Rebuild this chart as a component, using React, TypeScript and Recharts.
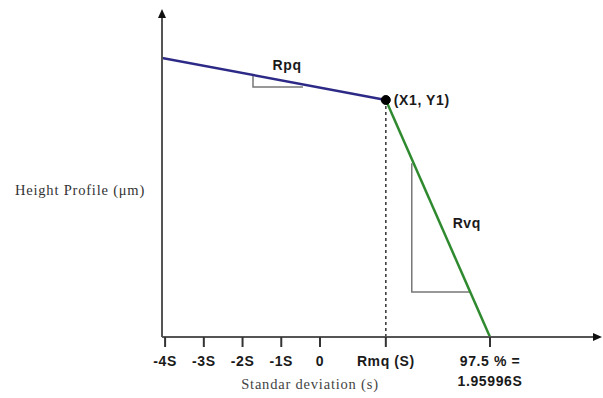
import {
  LineChart,
  Line,
  XAxis,
  YAxis,
  ReferenceLine,
  ReferenceDot,
} from 'recharts';

// x in standard deviations, y in arbitrary height units
const X_MIN = -4.08;
const X_MAX = 7.05;
const Y_MAX = 10;

const tickValues = [-4, -3, -2, -1, 0, 1.7, 4.39];
const tickLabels = ['-4S', '-3S', '-2S', '-1S', '0', 'Rmq (S)', '97.5 % =|1.95996S'];

const rpqLine = [
  { x: -4.08, y: 8.75 },
  { x: 1.7, y: 7.43 },
];
const rvqLine = [
  { x: 1.7, y: 7.43 },
  { x: 4.39, y: 0 },
];
const rpqTriangle = [
  { x: -1.73, y: 8.21 },
  { x: -1.73, y: 7.84 },
  { x: -0.44, y: 7.84 },
];
const rvqTriangle = [
  { x: 2.37, y: 5.45 },
  { x: 2.37, y: 1.41 },
  { x: 3.87, y: 1.41 },
];
const knee = { x: 1.7, y: 7.43 };
const rpqLabel = { x: -0.85, y: 8.53, text: 'Rpq' };
const rvqLabel = { x: 3.79, y: 3.57, text: 'Rvq' };

const boldFont = 'Liberation Sans, Arial, sans-serif';
const serifFont = 'Liberation Serif, Times New Roman, serif';

function XTick(props: any) {
  const { x, y, payload } = props;
  const idx = tickValues.indexOf(payload.value);
  const lines = (tickLabels[idx] ?? String(payload.value)).split('|');
  return (
    <text
      x={x}
      y={y}
      textAnchor="middle"
      fontFamily={boldFont}
      fontWeight="bold"
      fontSize={14}
      letterSpacing={0.6}
      fill="#1a1a1a"
    >
      {lines.map((l, i) => (
        <tspan key={i} x={x} dy={i === 0 ? 17 : 20}>
          {l}
        </tspan>
      ))}
    </text>
  );
}

const arrowUp = (p: any) => (
  <polygon
    points={`${p.cx},${p.cy - 9} ${p.cx - 4},${p.cy} ${p.cx + 4},${p.cy}`}
    fill="#111"
  />
);
const arrowRight = (p: any) => (
  <polygon
    points={`${p.cx + 9},${p.cy} ${p.cx},${p.cy - 4} ${p.cx},${p.cy + 4}`}
    fill="#111"
  />
);

const boldLabel = (text: string, dx = 0, dy = 0, anchor = 'middle') => (p: any) => {
  const vb = p.viewBox;
  const cx = vb.cx ?? vb.x + (vb.width ?? 0) / 2;
  const cy = vb.cy ?? vb.y + (vb.height ?? 0) / 2;
  return (
    <text
      x={cx + dx}
      y={cy + dy}
      textAnchor={anchor}
      dominantBaseline="central"
      fontFamily={boldFont}
      fontWeight="bold"
      fontSize={14}
      letterSpacing={0.6}
      fill="#1a1a1a"
    >
      {text}
    </text>
  );
};

export default function App() {
  return (
    <div style={{ position: 'absolute', left: 0, top: 0, background: '#fff' }}>
      <LineChart
        width={603}
        height={398}
        margin={{ top: 18, right: 10, bottom: 0, left: 12 }}
      >
        <XAxis
          type="number"
          dataKey="x"
          domain={[X_MIN, X_MAX]}
          ticks={tickValues}
          interval={0}
          allowDataOverflow
          height={61}
          axisLine={{ stroke: '#555', strokeWidth: 2 }}
          tickLine={{ stroke: '#333', strokeWidth: 2 }}
          tickSize={10}
          tick={<XTick />}
          label={(p: any) => (
            <text
              x={310}
              y={p.viewBox.y + 52}
              textAnchor="middle"
              fontFamily={serifFont}
              fontSize={14.5}
              letterSpacing={0.8}
              fill="#444"
            >
              Standar deviation (s)
            </text>
          )}
        />
        <YAxis
          type="number"
          dataKey="y"
          domain={[0, Y_MAX]}
          ticks={[]}
          tick={false}
          tickLine={false}
          width={150}
          allowDataOverflow
          axisLine={{ stroke: '#555', strokeWidth: 2 }}
          label={(p: any) => (
            <text
              x={p.viewBox.x + p.viewBox.width - 82}
              y={190}
              textAnchor="middle"
              dominantBaseline="central"
              fontFamily={serifFont}
              fontSize={14.5}
              letterSpacing={0.8}
              fill="#333"
            >
              Height Profile (μm)
            </text>
          )}
        />
        <ReferenceDot x={X_MIN} y={Y_MAX} ifOverflow="visible" shape={arrowUp} />
        <ReferenceDot x={X_MAX} y={0} ifOverflow="visible" shape={arrowRight} />
        <ReferenceLine
          segment={[
            { x: knee.x, y: 0 },
            { x: knee.x, y: knee.y },
          ]}
          stroke="#333"
          strokeWidth={1.5}
          strokeDasharray="3 3"
        />
        <Line
          data={rpqTriangle}
          dataKey="y"
          type="linear"
          stroke="#777"
          strokeWidth={1.5}
          dot={false}
          isAnimationActive={false}
        />
        <Line
          data={rvqTriangle}
          dataKey="y"
          type="linear"
          stroke="#777"
          strokeWidth={1.5}
          dot={false}
          isAnimationActive={false}
        />
        <Line
          data={rpqLine}
          dataKey="y"
          type="linear"
          stroke="#2c2a86"
          strokeWidth={2.5}
          dot={false}
          isAnimationActive={false}
        />
        <Line
          data={rvqLine}
          dataKey="y"
          type="linear"
          stroke="#2f8a2f"
          strokeWidth={2.5}
          dot={false}
          isAnimationActive={false}
        />
        <ReferenceDot
          x={knee.x}
          y={knee.y}
          r={4.5}
          fill="#000"
          stroke="#000"
          label={boldLabel('(X1, Y1)', 8, 0, 'start')}
        />
        <ReferenceDot
          x={rpqLabel.x}
          y={rpqLabel.y}
          r={0}
          label={boldLabel(rpqLabel.text)}
        />
        <ReferenceDot
          x={rvqLabel.x}
          y={rvqLabel.y}
          r={0}
          label={boldLabel(rvqLabel.text)}
        />
      </LineChart>
    </div>
  );
}
